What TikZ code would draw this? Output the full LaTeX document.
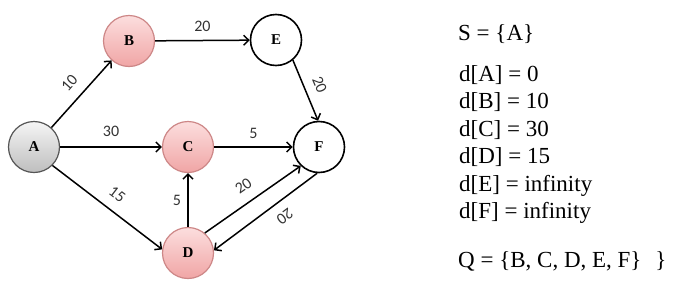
\documentclass[tikz,border=0pt]{standalone}
\usepackage{fontspec}
\setmainfont{Liberation Serif}
\newfontfamily\wgtfont{Carlito}
\usetikzlibrary{arrows.meta}

\definecolor{pinktop}{RGB}{252,222,222}
\definecolor{pinkbot}{RGB}{240,165,165}
\definecolor{pinkline}{RGB}{205,135,135}
\definecolor{greytop}{RGB}{245,245,245}
\definecolor{greybot}{RGB}{190,190,190}
\definecolor{greyline}{RGB}{85,85,85}

\begin{document}
\begin{tikzpicture}[x=1pt,y=-1pt,
  vertex/.style={circle,minimum size=51pt,inner sep=0pt,line width=1.2pt,
    font=\fontsize{15}{15}\selectfont\bfseries},
  visited/.style={vertex,draw=pinkline,top color=pinktop,bottom color=pinkbot},
  source/.style={vertex,draw=greyline,top color=greytop,bottom color=greybot},
  open/.style={vertex,draw=black,fill=white,line width=1.6pt},
  edge/.style={line width=1.5pt,-{Straight Barb[length=5pt,width=10pt,line width=1.5pt]}},
  wgt/.style={font=\wgtfont\fontsize{16}{16}\selectfont,text=black!80},
  dline/.style={anchor=base west,inner sep=0pt,font=\fontsize{23}{23}\selectfont}]

 \useasboundingbox (0,0) rectangle (684,292);

 % vertices
 \node[source]  (A) at (34,147) {A};
 \node[visited] (B) at (129,41) {B};
 \node[visited] (C) at (188,147) {C};
 \node[visited] (D) at (188,253) {D};
 \node[open]    (E) at (276,40) {E};
 \node[open]    (F) at (319,147) {F};

 % edges
 \draw[edge] (A) -- node[wgt,sloped,above=7pt]{10} (B);
 \draw[edge] (B) -- node[wgt,above=5pt]{20} (E);
 \draw[edge] (A) -- node[wgt,above=6pt]{30} (C);
 \draw[edge] (C) -- node[wgt,above=4pt]{5} (F);
 \draw[edge] (A.-45) -- node[wgt,sloped,above=7pt]{15} (D.172);
 \draw[edge] (E.-50) -- node[wgt,sloped,above=6pt]{20} (F.92);
 \draw[edge] (D) -- node[wgt,left=3pt]{5} (C);
 \draw[edge] (D.50) -- node[wgt,sloped,above=7pt]{20} (F.226);
 \draw[edge] (F.266) -- node[wgt,sloped,allow upside down,above=6pt,pos=0.4]{20} (D.6);

 % distances
 \node[dline] (sset) at (458,40) {S = \{A\}};
 \node[dline] (dA) at (459,81) {d[A] = 0};
 \node[dline] (dB) at (459,108.5) {d[B] = 10};
 \node[dline] (dC) at (459,136) {d[C] = 30};
 \node[dline] (dD) at (459,163.5) {d[D] = 15};
 \node[dline] (dE) at (459,191) {d[E] = infinity};
 \node[dline] (dF) at (459,218.5) {d[F] = infinity};
 \node[dline] (qset) at (458,267) {Q = \{B, C, D, E, F\}\hspace{14pt}\}};

\end{tikzpicture}
\end{document}
